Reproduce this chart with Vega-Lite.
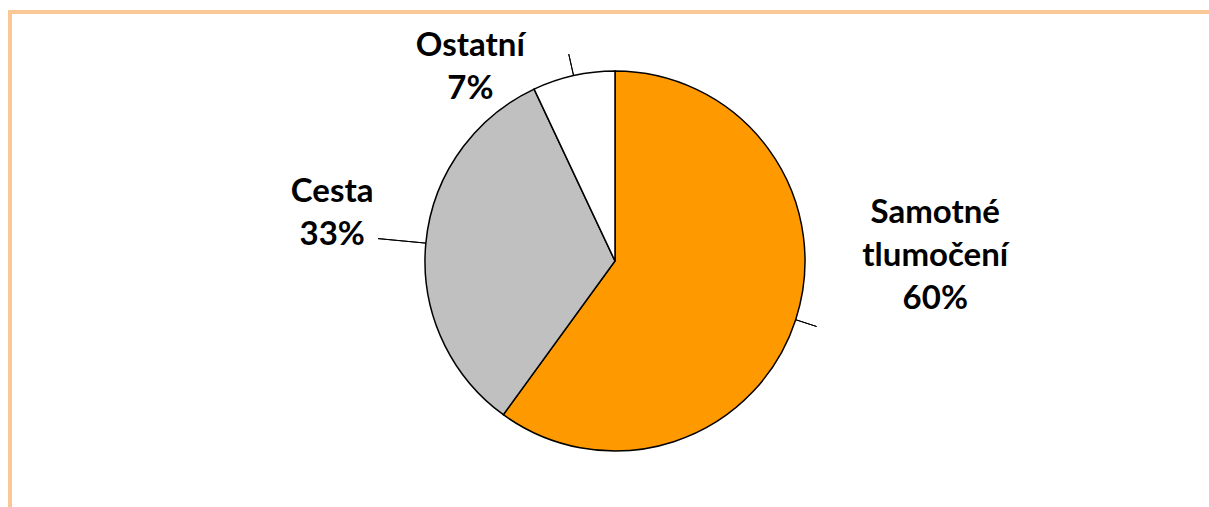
{
  "$schema": "https://vega.github.io/schema/vega-lite/v6.json",
  "width": 1209,
  "height": 507,
  "autosize": {"type": "fit", "contains": "padding"},
  "padding": {"left": 10, "top": 12, "right": -5, "bottom": -5},
  "background": "white",
  "view": {"stroke": "#FAC896", "strokeWidth": 4},
  "config": {
    "text": {"font": "Lato", "fontWeight": "bold", "fontSize": 33, "lineHeight": 43, "lineBreak": "\n", "align": "center", "baseline": "middle", "color": "black"}
  },
  "data": {
    "values": [
      {"category": "Samotné tlumočení", "value": 60, "ord": 1, "label": "Samotné\ntlumočení\n60%"},
      {"category": "Cesta", "value": 33, "ord": 2, "label": "Cesta\n33%"},
      {"category": "Ostatní", "value": 7, "ord": 3, "label": "Ostatní\n7%"}
    ]
  },
  "transform": [
    {"stack": "value", "groupby": [], "sort": [{"field": "ord", "order": "ascending"}], "as": ["v0", "v1"]},
    {"calculate": "(datum.v0 + datum.v1) / 2", "as": "mid"}
  ],
  "layer": [
    {
      "mark": {"type": "arc", "outerRadius": 190, "stroke": "black", "strokeWidth": 1.5, "xOffset": 3, "yOffset": -1},
      "encoding": {
        "theta": {"field": "v0", "type": "quantitative", "stack": null, "scale": {"domain": [0, 100]}},
        "theta2": {"field": "v1"},
        "color": {"field": "category", "type": "nominal", "scale": {"domain": ["Samotné tlumočení", "Cesta", "Ostatní"], "range": ["#FF9900", "#C0C0C0", "#FFFFFF"]}, "legend": null}
      }
    },
    {
      "transform": [{"filter": "datum.ord == 1"}],
      "mark": {"type": "arc", "innerRadius": 190, "outerRadius": 212, "stroke": "black", "strokeWidth": 1, "fill": null, "xOffset": 3, "yOffset": -1},
      "encoding": {
        "theta": {"field": "mid", "type": "quantitative", "stack": null, "scale": {"domain": [0, 100]}},
        "theta2": {"field": "mid"}
      }
    },
    {
      "transform": [{"filter": "datum.ord == 2"}],
      "mark": {"type": "arc", "innerRadius": 190, "outerRadius": 238, "stroke": "black", "strokeWidth": 1, "fill": null, "xOffset": 3, "yOffset": -1},
      "encoding": {
        "theta": {"field": "mid", "type": "quantitative", "stack": null, "scale": {"domain": [0, 100]}},
        "theta2": {"field": "mid"}
      }
    },
    {
      "transform": [{"filter": "datum.ord == 3"}],
      "mark": {"type": "arc", "innerRadius": 190, "outerRadius": 212, "stroke": "black", "strokeWidth": 1, "fill": null, "xOffset": 3, "yOffset": -1},
      "encoding": {
        "theta": {"field": "mid", "type": "quantitative", "stack": null, "scale": {"domain": [0, 100]}},
        "theta2": {"field": "mid"}
      }
    },
    {
      "transform": [{"filter": "datum.ord == 1"}],
      "mark": {"type": "text", "radius": 260, "dx": 76, "dy": -129},
      "encoding": {
        "theta": {"field": "mid", "type": "quantitative", "stack": null, "scale": {"domain": [0, 100]}},
        "text": {"field": "label"}
      }
    },
    {
      "transform": [{"filter": "datum.ord == 2"}],
      "mark": {"type": "text", "radius": 260, "dx": -21, "dy": -46},
      "encoding": {
        "theta": {"field": "mid", "type": "quantitative", "stack": null, "scale": {"domain": [0, 100]}},
        "text": {"field": "label"}
      }
    },
    {
      "transform": [{"filter": "datum.ord == 3"}],
      "mark": {"type": "text", "radius": 200, "dx": -98, "dy": -21},
      "encoding": {
        "theta": {"field": "mid", "type": "quantitative", "stack": null, "scale": {"domain": [0, 100]}},
        "text": {"field": "label"}
      }
    }
  ]
}
